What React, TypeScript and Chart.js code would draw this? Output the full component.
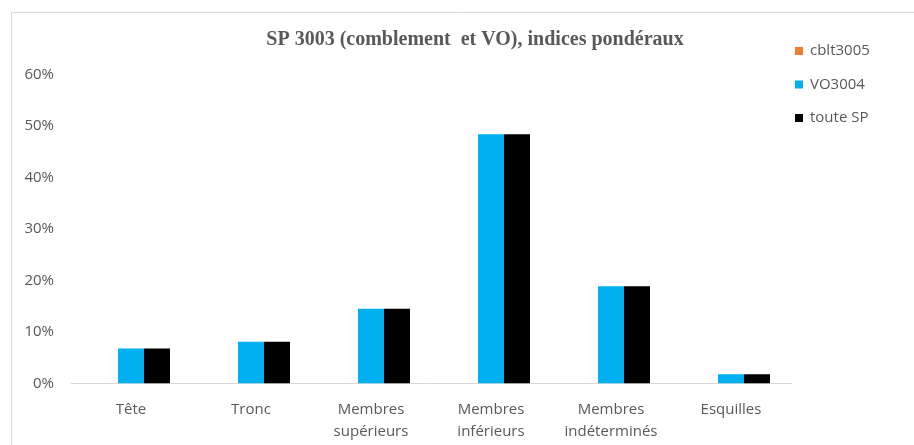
import React, { useEffect, useRef } from "react";
import { Chart, registerables } from "chart.js";

Chart.register(...registerables);

const categories: string[][] = [
  ["Tête"],
  ["Tronc"],
  ["Membres", "supérieurs"],
  ["Membres", "inférieurs"],
  ["Membres", "indéterminés"],
  ["Esquilles"],
];
const cblt3005: (number | null)[] = [null, null, null, null, null, null];
const vo3004: number[] = [6.8, 8.1, 14.5, 48.4, 18.9, 1.8];
const touteSP: number[] = [6.8, 8.1, 14.5, 48.4, 18.9, 1.8];
const seriesLabels = ["cblt3005", "VO3004", "toute SP"];
const seriesColors = ["#ED7D31", "#00B0F0", "#000000"];
const yMin = 0;
const yMax = 60;
const yStep = 10;
const titleText = "SP 3003 (comblement  et VO), indices pondéraux";

const GREY = "#595959";

const decorPlugin = {
  id: "decor",
  beforeDraw(chart: any) {
    const ctx = chart.ctx;
    ctx.save();
    ctx.strokeStyle = "#d9d9d9";
    ctx.lineWidth = 1;
    ctx.beginPath();
    ctx.moveTo(11.5, 445);
    ctx.lineTo(11.5, 12.5);
    ctx.lineTo(914, 12.5);
    ctx.stroke();
    ctx.restore();
  },
  afterDraw(chart: any) {
    const ctx = chart.ctx;
    ctx.save();
    // title
    ctx.fillStyle = GREY;
    ctx.font = "bold 20px 'Liberation Serif', 'Times New Roman', serif";
    ctx.textAlign = "center";
    ctx.textBaseline = "middle";
    ctx.fillText(titleText, 475, 40);
    // legend
    ctx.font = "15px 'Open Sans', sans-serif";
    ctx.textAlign = "left";
    const rowsY = [51, 84.5, 118];
    chart.data.datasets.forEach((ds: any, i: number) => {
      const y = rowsY[i];
      ctx.fillStyle = ds.backgroundColor;
      ctx.fillRect(795, y - 4, 8, 8);
      ctx.fillStyle = GREY;
      ctx.fillText(ds.label, 810, y);
    });
    ctx.restore();
  },
};

export default function App() {
  const ref = useRef<HTMLCanvasElement | null>(null);
  useEffect(() => {
    if (!ref.current) return;
    const datasets = [cblt3005, vo3004, touteSP].map((d, i) => ({
      label: seriesLabels[i],
      data: d,
      backgroundColor: seriesColors[i],
      borderWidth: 0,
      categoryPercentage: 0.65,
      barPercentage: 1,
    }));
    const chart = new Chart(ref.current, {
      type: "bar",
      data: { labels: categories, datasets },
      plugins: [decorPlugin],
      options: {
        animation: false,
        responsive: true,
        maintainAspectRatio: false,
        layout: { padding: { left: 0, right: 123, top: 74.5, bottom: 0 } },
        plugins: {
          legend: { display: false },
          title: { display: false },
          tooltip: { enabled: false },
        },
        scales: {
          x: {
            grid: { display: false },
            border: { display: true, color: "#d9d9d9", width: 1 },
            ticks: {
              color: GREY,
              padding: 7,
              font: { family: "'Open Sans', sans-serif", size: 15, lineHeight: 22 / 15 },
              maxRotation: 0,
              autoSkip: false,
            },
            afterFit(scale: any) {
              scale.height = 61.5;
            },
          },
          y: {
            min: yMin,
            max: yMax,
            grid: { display: false },
            border: { display: false },
            ticks: {
              stepSize: yStep,
              color: GREY,
              padding: 9,
              font: { family: "'Open Sans', sans-serif", size: 15 },
              callback: (v: any) => v + "%",
            },
            afterFit(scale: any) {
              scale.width = 71;
            },
          },
        },
      },
    });
    return () => chart.destroy();
  }, []);
  return (
    <div style={{ position: "fixed", left: 0, top: 0, width: 914, height: 445, background: "#fff" }}>
      <canvas ref={ref} />
    </div>
  );
}
